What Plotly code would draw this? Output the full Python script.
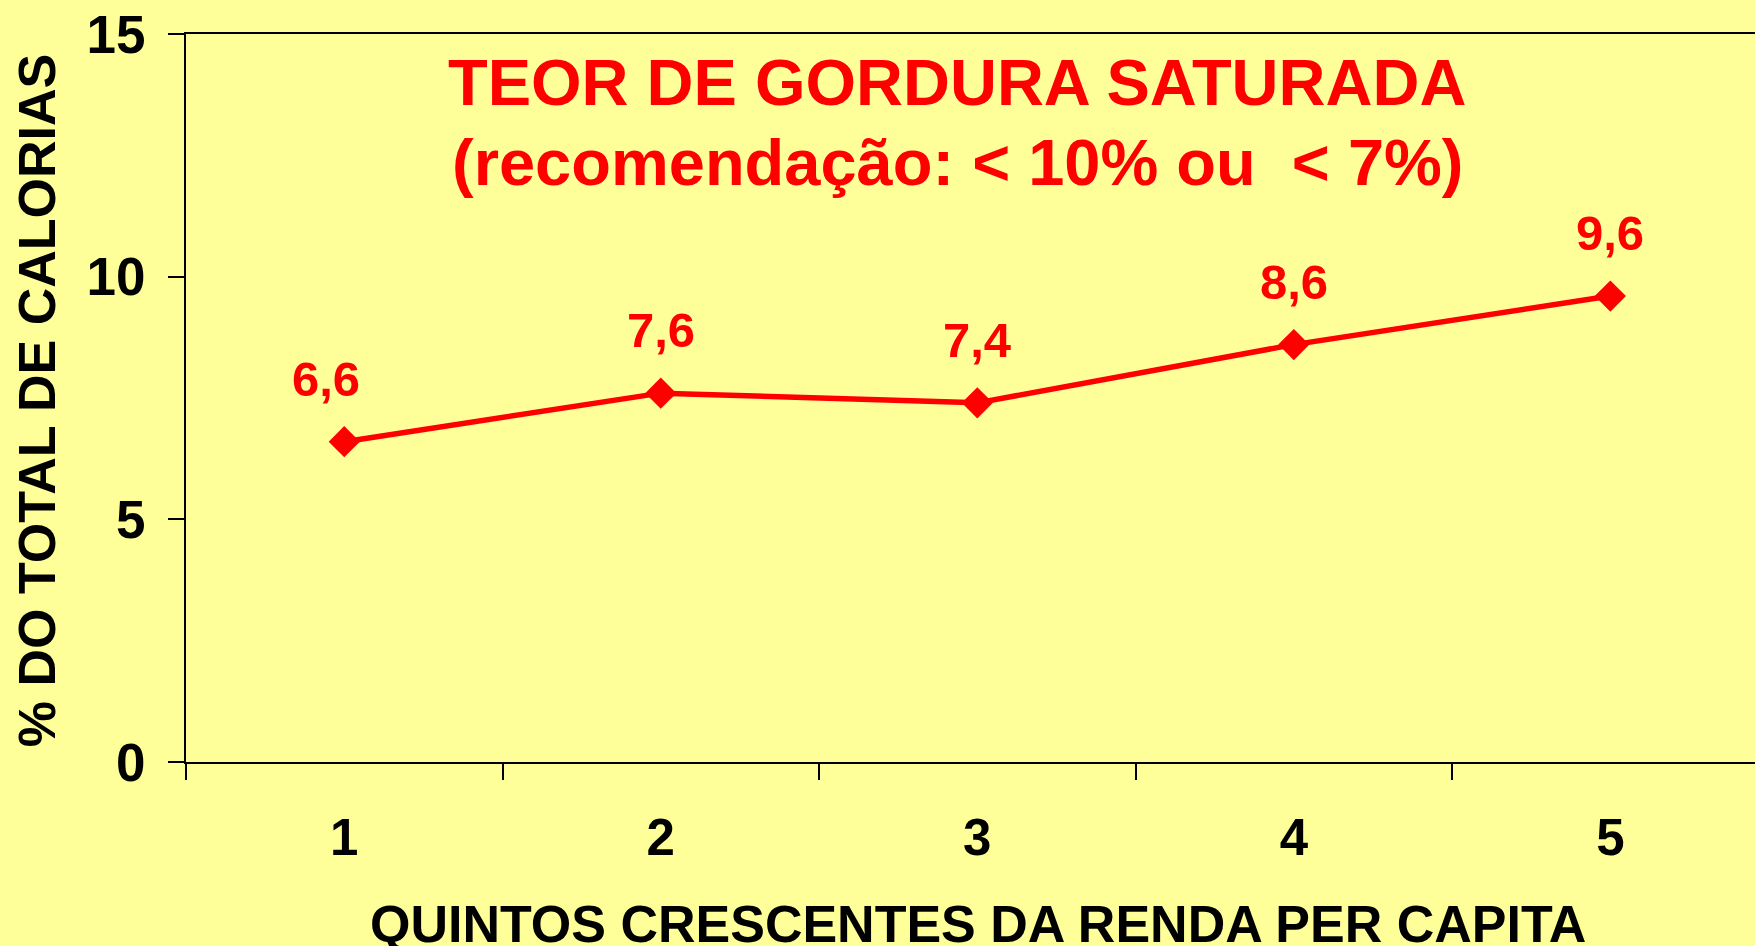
import plotly.graph_objects as go

# Saturated fat share of total calories by income quintile
quintiles = ["1", "2", "3", "4", "5"]
fat_share = [6.6, 7.6, 7.4, 8.6, 9.6]
value_labels = ["6,6", "7,6", "7,4", "8,6", "9,6"]

y_ticks = [0, 5, 10, 15]

title_line1 = "TEOR DE GORDURA SATURADA"
title_line2 = "(recomendação: < 10% ou \u00a0< 7%)"
x_title = "QUINTOS CRESCENTES DA RENDA PER CAPITA"
y_title = "% DO TOTAL DE CALORIAS"

RED = "#FF0000"
BG = "#FFFF99"
FONT = "Liberation Sans, Arial, Helvetica, sans-serif"

# horizontal nudge (px) for each value label
label_nudge = [-18, 0, 0, 0, 0]

fig = go.Figure()
fig.add_trace(go.Scatter(
    x=quintiles,
    y=fat_share,
    mode="lines+markers",
    line=dict(color=RED, width=5.5),
    marker=dict(symbol="diamond", size=24, color=RED),
    hoverinfo="skip",
    showlegend=False,
))

# value labels above each point (category index on the x axis)
annotations = []
for i, (v, lab) in enumerate(zip(fat_share, value_labels)):
    annotations.append(dict(
        x=i, y=v, xref="x", yref="y", text=lab, showarrow=False,
        yanchor="bottom", xanchor="center", yshift=34, xshift=label_nudge[i],
        font=dict(family=FONT, size=49, color=RED, weight="bold"),
    ))

annotations += [
    dict(x=0.4914, y=0.9327, xref="paper", yref="paper", text=title_line1,
         showarrow=False, xanchor="center", yanchor="middle",
         font=dict(family=FONT, size=65, color=RED, weight="bold")),
    dict(x=0.4914, y=0.824, xref="paper", yref="paper", text=title_line2,
         showarrow=False, xanchor="center", yanchor="middle",
         font=dict(family=FONT, size=65, color=RED, weight="bold")),
    dict(x=0.505, y=-0.2232, xref="paper", yref="paper", text=x_title,
         showarrow=False, xanchor="center", yanchor="middle",
         font=dict(family=FONT, size=52, color="black", weight="bold")),
    dict(x=-0.095, y=0.497, xref="paper", yref="paper", text=y_title,
         showarrow=False, xanchor="center", yanchor="middle", textangle=-90,
         font=dict(family=FONT, size=52, color="black", weight="bold")),
]

fig.update_layout(
    width=1755, height=946,
    margin=dict(l=186, r=0, t=34, b=184, pad=0),
    paper_bgcolor=BG, plot_bgcolor=BG,
    annotations=annotations,
    xaxis=dict(
        type="category", categoryorder="array", categoryarray=quintiles,
        range=[-0.5, 4.457], tickson="boundaries",
        ticks="outside", ticklen=16, tickwidth=1.5, tickcolor="black",
        showline=True, linewidth=2, linecolor="black", mirror=True,
        showgrid=False, zeroline=False, ticklabelstandoff=30,
        tickfont=dict(family=FONT, size=51, color="black", weight="bold"),
    ),
    yaxis=dict(
        range=[0, 15], tickvals=y_ticks,
        ticks="outside", ticklen=16, tickwidth=2, tickcolor="black",
        showline=True, linewidth=2, linecolor="black",
        showgrid=False, zeroline=False, ticklabelstandoff=12,
        tickfont=dict(family=FONT, size=53, color="black", weight="bold"),
    ),
)

fig.write_html("out.html")
